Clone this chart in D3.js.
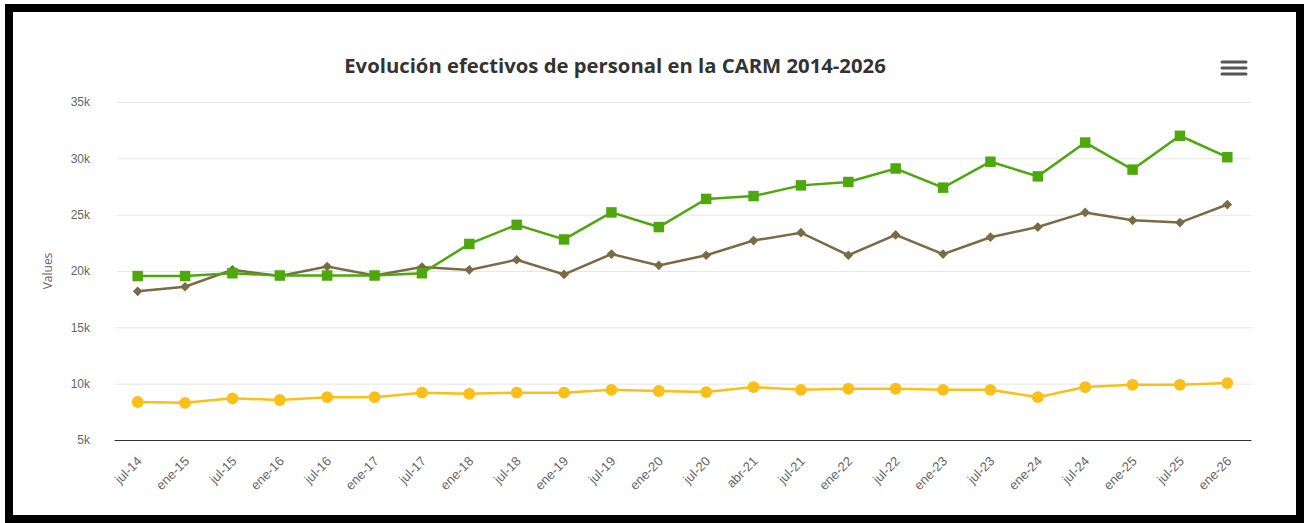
<!DOCTYPE html>
<html>
<head>
<meta charset="utf-8">
<script src="https://cdn.jsdelivr.net/npm/d3@7"></script>
<style>
  body { margin: 0; background: #fff; }
  svg { display: block; font-family: 'Open Sans', 'DejaVu Sans', sans-serif; }
</style>
</head>
<body>
<div id="chart"></div>
<script>
const categories = ['jul-14', 'ene-15', 'jul-15', 'ene-16', 'jul-16', 'ene-17', 'jul-17', 'ene-18',
  'jul-18', 'ene-19', 'jul-19', 'ene-20', 'jul-20', 'abr-21', 'jul-21', 'ene-22', 'jul-22',
  'ene-23', 'jul-23', 'ene-24', 'jul-24', 'ene-25', 'jul-25', 'ene-26'];

const totalValues = [19550, 19550, 19800, 19600, 19600, 19600, 19800, 22400, 24100, 22800, 25200,
  23900, 26400, 26650, 27600, 27900, 29100, 27400, 29700, 28400, 31400, 29000, 32000, 30100];

const secondValues = [18200, 18600, 20100, 19550, 20400, 19600, 20350, 20100, 21000, 19700, 21500,
  20500, 21400, 22700, 23400, 21400, 23200, 21500, 23000, 23900, 25200, 24500, 24300, 25900];

const thirdValues = [8370, 8300, 8700, 8550, 8800, 8800, 9200, 9100, 9200, 9200, 9450,
  9350, 9250, 9700, 9450, 9550, 9550, 9450, 9450, 8800, 9700, 9900, 9900, 10050];

const yTicks = [5000, 10000, 15000, 20000, 25000, 30000, 35000];

const W = 1309, H = 523;
const margin = { top: 102, right: 58, bottom: 83, left: 114 };
const width = W - margin.left - margin.right;
const height = H - margin.top - margin.bottom;

const root = d3.select('#chart').append('svg').attr('width', W).attr('height', H);

// frame
root.append('rect')
  .attr('x', 9).attr('y', 8).attr('width', 1291).attr('height', 511)
  .attr('fill', '#fff').attr('stroke', '#000').attr('stroke-width', 8);

root.append('text')
  .attr('x', 615).attr('y', 73)
  .attr('text-anchor', 'middle')
  .attr('font-size', 20.3).attr('font-weight', 'bold').attr('fill', '#333')
  .text('Evolución efectivos de personal en la CARM 2014-2026');

// menu icon
const menu = root.append('g').attr('transform', 'translate(1222,62)');
[0, 6, 12].forEach(dy => {
  menu.append('line').attr('x1', 0).attr('x2', 24).attr('y1', dy).attr('y2', dy)
    .attr('stroke', '#555').attr('stroke-width', 3).attr('stroke-linecap', 'round');
});

root.append('text')
  .attr('transform', 'translate(52,' + (margin.top + height / 2) + ') rotate(-90)')
  .attr('text-anchor', 'middle')
  .attr('font-size', 12).attr('fill', '#666')
  .text('Values');

const svg = root.append('g').attr('transform', 'translate(' + margin.left + ',' + margin.top + ')');

const x = d3.scaleBand().domain(categories).range([0, width]);
const y = d3.scaleLinear().domain([5000, 35000]).range([height, 0]);

// grid + y labels
const yAxis = d3.axisLeft(y).tickValues(yTicks)
  .tickSize(-width).tickFormat(d => (d / 1000) + 'k');
svg.append('g').call(yAxis)
  .call(g => g.select('.domain').remove())
  .call(g => g.selectAll('.tick line').attr('stroke', '#e6e6e6').attr('x1', 3))
  .call(g => g.selectAll('.tick text').attr('x', -24).attr('font-size', 12)
    .attr('fill', '#666').attr('font-family', null));

const xAxis = d3.axisBottom(x).tickSize(0);
svg.append('g').attr('transform', 'translate(0,' + height + ')').call(xAxis)
  .call(g => g.select('.domain').attr('stroke', '#333').attr('stroke-width', 1.2))
  .call(g => g.selectAll('.tick text')
    .attr('font-size', 13).attr('fill', '#666').attr('font-family', null)
    .attr('text-anchor', 'end')
    .attr('dy', 0).attr('y', 0)
    .attr('transform', 'translate(5,22) rotate(-45)'));

const cx = d => x(d) + x.bandwidth() / 2;

const series = [
  { values: totalValues, color: '#4ea80c', symbol: d3.symbolSquare, size: 110 },
  { values: secondValues, color: '#7a6a45', symbol: d3.symbolDiamond2, size: 60 },
  { values: thirdValues, color: '#fbbf1a', symbol: d3.symbolCircle, size: 110 }
];

// draw in reverse so the green sits on top
series.slice().reverse().forEach(s => {
  const line = d3.line().x((v, i) => cx(categories[i])).y(v => y(v));
  svg.append('path').datum(s.values)
    .attr('fill', 'none').attr('stroke', s.color).attr('stroke-width', 2.5)
    .attr('d', line);
  svg.append('g').selectAll('path')
    .data(s.values)
    .join('path')
    .attr('transform', (v, i) => 'translate(' + cx(categories[i]) + ',' + y(v) + ')')
    .attr('d', d3.symbol().type(s.symbol).size(s.size))
    .attr('fill', s.color);
});
</script>
</body>
</html>
